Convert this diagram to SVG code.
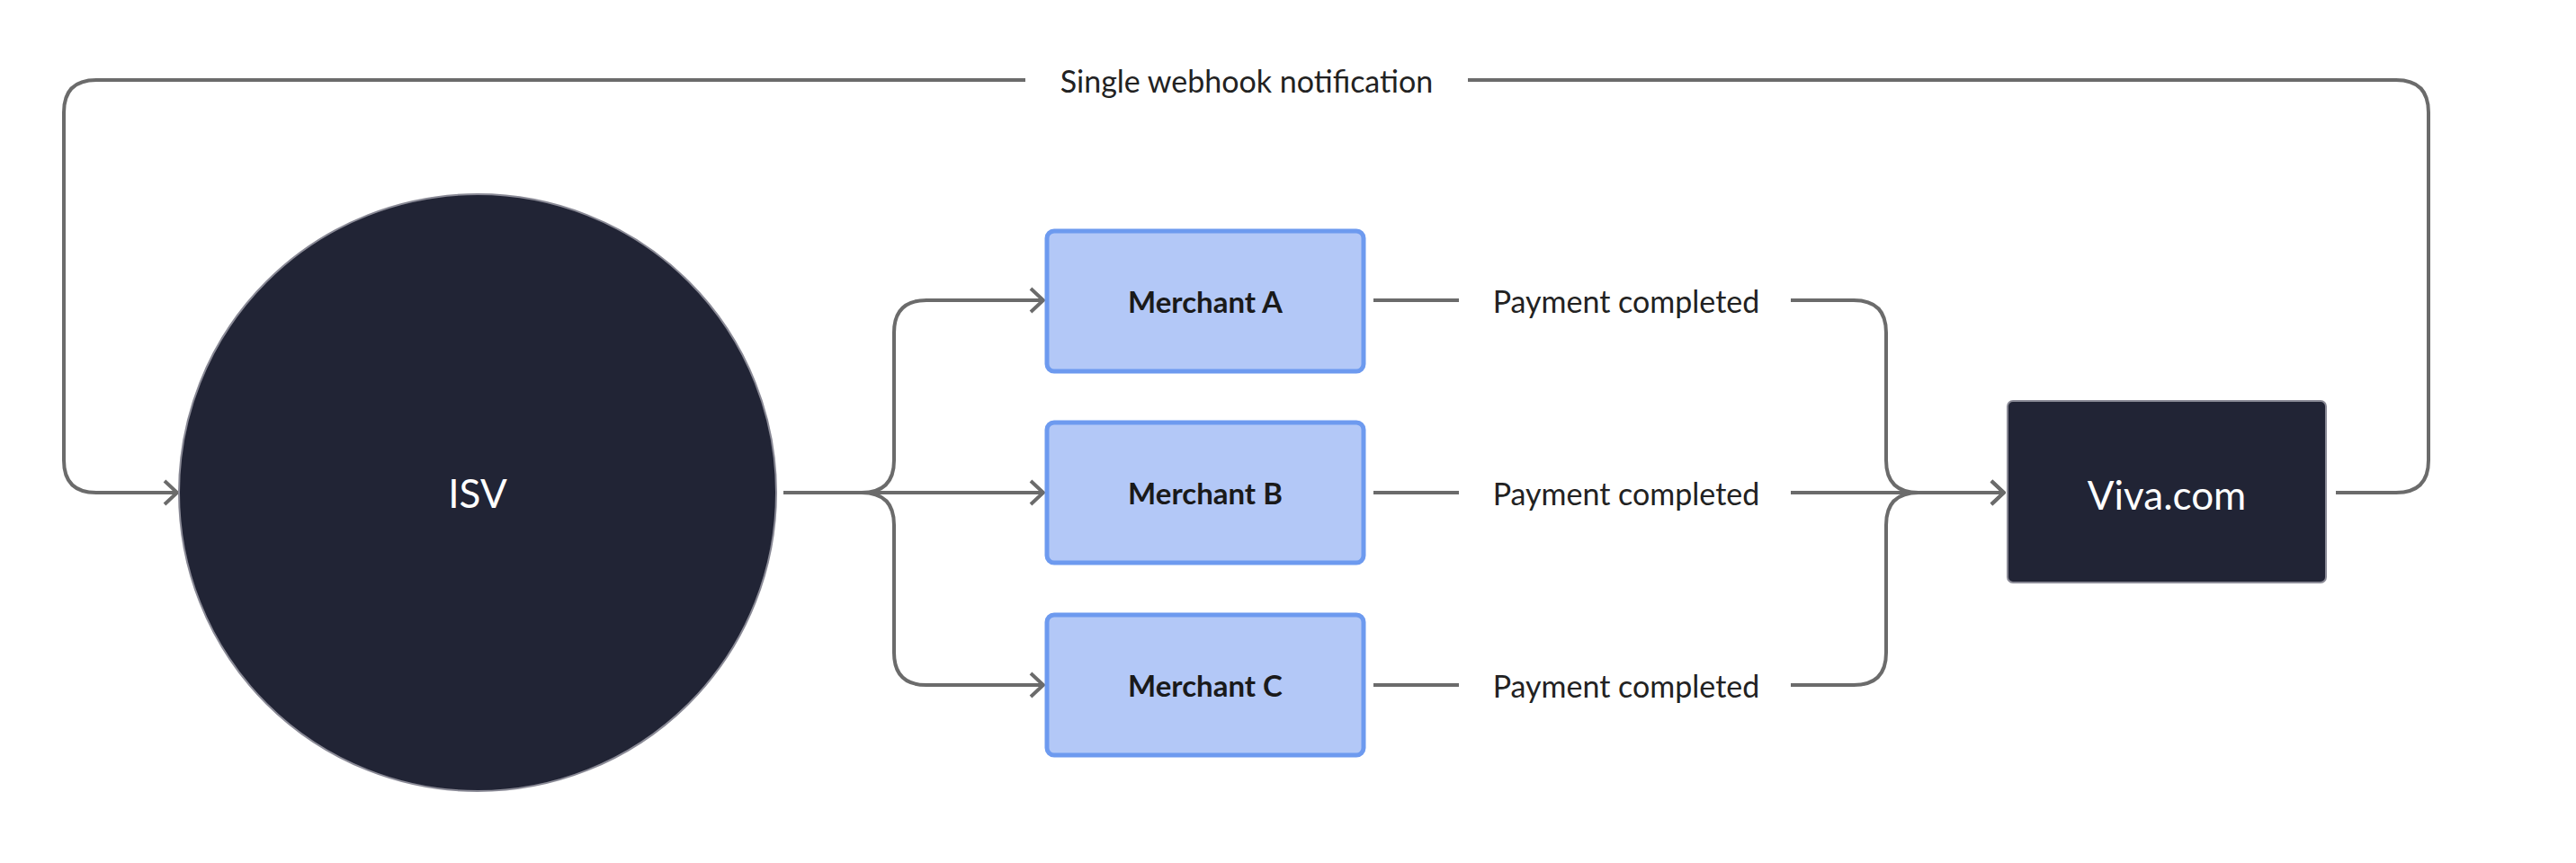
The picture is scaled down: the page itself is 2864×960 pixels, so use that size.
<svg xmlns="http://www.w3.org/2000/svg" width="2864" height="960" viewBox="0 0 2864 960">
<style>
.c{fill:none;stroke:#6b6b6b;stroke-width:4}
.m{fill:#b3c8f7;stroke:#6d9aef;stroke-width:5}
.dk{fill:#212435;stroke:#8a8a96;stroke-width:2}
.t{font-family:Lato,"Open Sans",sans-serif;text-anchor:middle;dominant-baseline:central}
.lb{font-size:34px;fill:#222}
.mt{font-size:33px;font-weight:700;fill:#1a1a1a}
.wt{font-size:44px;fill:#fff}
</style>
<defs>
<marker id="a" markerWidth="20" markerHeight="30" refX="18" refY="15" orient="auto" markerUnits="userSpaceOnUse">
<path d="M4,2 L18,15 L4,28" fill="none" stroke="#6b6b6b" stroke-width="4"/>
</marker>
</defs>
<rect width="2864" height="960" fill="#fff"/>
<g id="connectors">
<path class="c" d="M1140,89 H107 Q71,89 71,125 V512 Q71,548 107,548 H197" marker-end="url(#a)"/>
<path class="c" d="M2597,548 H2664 Q2700,548 2700,512 V125 Q2700,89 2664,89 H1632"/>
<path class="c" d="M871,548 H958 Q994,548 994,512 V370 Q994,334 1030,334 H1160" marker-end="url(#a)"/>
<path class="c" d="M871,548 H1160" marker-end="url(#a)"/>
<path class="c" d="M958,548 Q994,548 994,584 V726 Q994,762 1030,762 H1160" marker-end="url(#a)"/>
<path class="c" d="M1527,334 H1622 M1527,548 H1622 M1527,762 H1622"/>
<path class="c" d="M1991,334 H2061 Q2097,334 2097,370 V512 Q2097,548 2133,548 H2228" marker-end="url(#a)"/>
<path class="c" d="M1991,548 H2228" marker-end="url(#a)"/>
<path class="c" d="M1991,762 H2061 Q2097,762 2097,726 V584 Q2097,548 2133,548"/>
<text class="t lb" x="1386" y="89">Single webhook notification</text>
<text class="t lb" x="1808" y="334">Payment completed</text>
<text class="t lb" x="1808" y="548">Payment completed</text>
<text class="t lb" x="1808" y="762">Payment completed</text>
</g>
<g id="isv"><circle class="dk" cx="531" cy="548" r="332"/><text class="t wt" x="531" y="548">ISV</text></g>
<g id="merchantA"><rect class="m" x="1164" y="257" width="352" height="156" rx="8"/><text class="t mt" x="1340" y="335">Merchant A</text></g>
<g id="merchantB"><rect class="m" x="1164" y="470" width="352" height="156" rx="8"/><text class="t mt" x="1340" y="548">Merchant B</text></g>
<g id="merchantC"><rect class="m" x="1164" y="684" width="352" height="156" rx="8"/><text class="t mt" x="1340" y="762">Merchant C</text></g>
<g id="viva"><rect class="dk" x="2232" y="446" width="354" height="202" rx="6"/><text class="t wt" x="2409" y="550" font-size="42">Viva.com</text></g>
</svg>
